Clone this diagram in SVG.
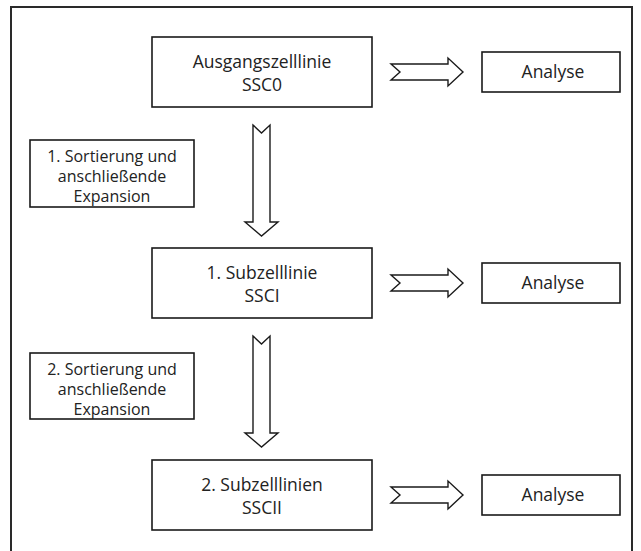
<svg xmlns="http://www.w3.org/2000/svg" width="641" height="551" viewBox="0 0 641 551">
<style>
.box{fill:#fff;stroke:#1a1a1a;stroke-width:1.6}
.arr{fill:#fff;stroke:#1a1a1a;stroke-width:1.4;stroke-linejoin:miter}
text{font-family:"Open Sans","Noto Sans","Liberation Sans",sans-serif;font-size:17.5px;fill:#222;text-anchor:middle}
text.lbl{font-size:16px}
</style>
<rect width="641" height="551" fill="#fff"/>
<path d="M11,551 V7 H632 V551" fill="none" stroke="#2a2a2a" stroke-width="2"/>
<g id="n-ssc0">
<rect class="box" x="152" y="37" width="220" height="70"/>
<text x="262" y="68">Ausgangszelllinie</text>
<text x="262" y="91">SSC0</text>
</g>
<g id="n-analyse1">
<rect class="box" x="482" y="52" width="138" height="40"/>
<text x="553" y="78">Analyse</text>
</g>
<g id="n-sort1">
<rect class="box" x="30" y="140" width="164" height="67"/>
<text class="lbl" x="112" y="162">1. Sortierung und</text>
<text class="lbl" x="112" y="182">anschließende</text>
<text class="lbl" x="112" y="202">Expansion</text>
</g>
<g id="n-ssci">
<rect class="box" x="152" y="248" width="220" height="70"/>
<text x="262" y="279">1. Subzelllinie</text>
<text x="262" y="302">SSCI</text>
</g>
<g id="n-analyse2">
<rect class="box" x="482" y="263" width="138" height="40"/>
<text x="553" y="289">Analyse</text>
</g>
<g id="n-sort2">
<rect class="box" x="30" y="353" width="164" height="66"/>
<text class="lbl" x="112" y="375">2. Sortierung und</text>
<text class="lbl" x="112" y="395">anschließende</text>
<text class="lbl" x="112" y="415">Expansion</text>
</g>
<g id="n-sscii">
<rect class="box" x="152" y="460" width="220" height="70"/>
<text x="262" y="491">2. Subzelllinien</text>
<text x="262" y="514">SSCII</text>
</g>
<g id="n-analyse3">
<rect class="box" x="482" y="475" width="138" height="40"/>
<text x="553" y="501">Analyse</text>
</g>
<g id="connectors">
<path class="arr" d="M391,64 L400,72 L391,80 L448,80 L448,86 L463,72 L448,58 L448,64 Z"/>
<path class="arr" d="M391,275 L400,283 L391,291 L448,291 L448,297 L463,283 L448,269 L448,275 Z"/>
<path class="arr" d="M391,487 L400,495 L391,503 L448,503 L448,509 L463,495 L448,481 L448,487 Z"/>
<path class="arr" d="M253,125 L261.5,133 L270,125 L270,222 L278,222 L261.5,236 L245,222 L253,222 Z"/>
<path class="arr" d="M253,336 L261.5,344 L270,336 L270,433 L278,433 L261.5,447 L245,433 L253,433 Z"/>
</g>
</svg>
